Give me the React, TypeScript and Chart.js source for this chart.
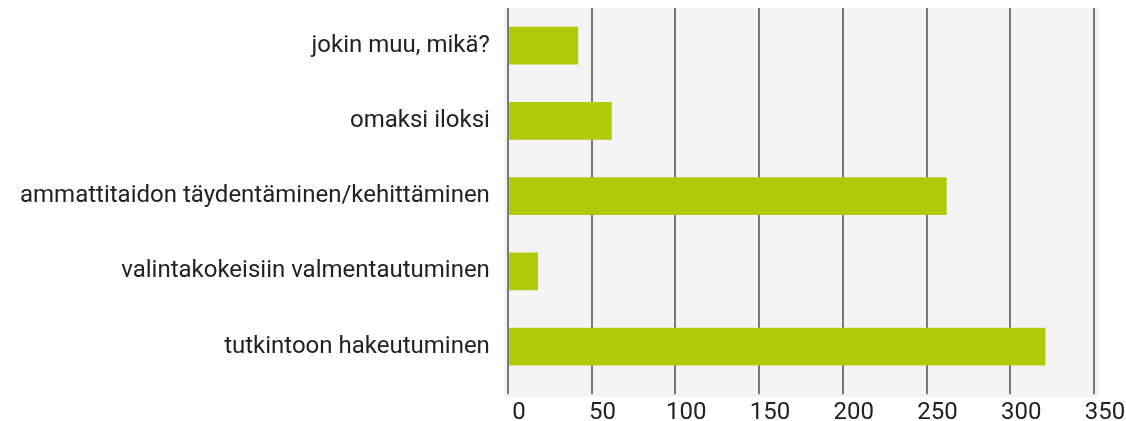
import React, { useEffect, useRef } from "react";
import { Chart, registerables } from "chart.js";

Chart.register(...registerables);

const categories = [
  "jokin muu, mikä?",
  "omaksi iloksi",
  "ammattitaidon täydentäminen/kehittäminen",
  "valintakokeisiin valmentautuminen",
  "tutkintoon hakeutuminen",
];
const values = [42, 62, 262, 18, 321];
const xMin = 0;
const xMax = 350;
const xStep = 50;

const bgPlugin = {
  id: "plotBg",
  beforeDraw(chart: any) {
    const { ctx, chartArea } = chart;
    ctx.save();
    ctx.fillStyle = "#f4f4f4";
    ctx.fillRect(chartArea.left - 4, chartArea.top, chartArea.right - chartArea.left + 9, chartArea.bottom - chartArea.top + 13);
    ctx.restore();
  },
};

export default function App() {
  const ref = useRef<HTMLCanvasElement>(null);
  useEffect(() => {
    document.body.style.margin = "0";
    const chart = new Chart(ref.current!, {
      type: "bar",
      data: {
        labels: categories,
        datasets: [
          {
            data: values,
            backgroundColor: "#afca0b",
            barPercentage: 0.5,
            categoryPercentage: 1,
          },
        ],
      },
      options: {
        indexAxis: "y",
        animation: false,
        responsive: false,
        layout: { padding: { top: 8, right: 32, left: 10, bottom: -10 } },
        plugins: { legend: { display: false }, tooltip: { enabled: false } },
        scales: {
          x: {
            min: xMin,
            max: xMax,
            ticks: {
              stepSize: xStep,
              color: "#222",
              font: { family: "Roboto", size: 24 },
              labelOffset: 11,
              padding: 4,
            },
            grid: {
              color: "#777",
              lineWidth: 2,
              tickLength: 10,
              drawOnChartArea: true,
            },
            border: { display: false },
          },
          y: {
            ticks: {
              color: "#222",
              font: { family: "Roboto", size: 24 },
              padding: 10,
            },
            grid: { display: false },
            border: { display: false },
            afterFit: (scale: any) => {
              scale.paddingTop = 0;
              scale.paddingBottom = 0;
            },
          },
        },
      },
      plugins: [bgPlugin],
    });
    return () => chart.destroy();
  }, []);
  return <canvas ref={ref} width={1126} height={421} style={{ display: "block" }} />;
}
